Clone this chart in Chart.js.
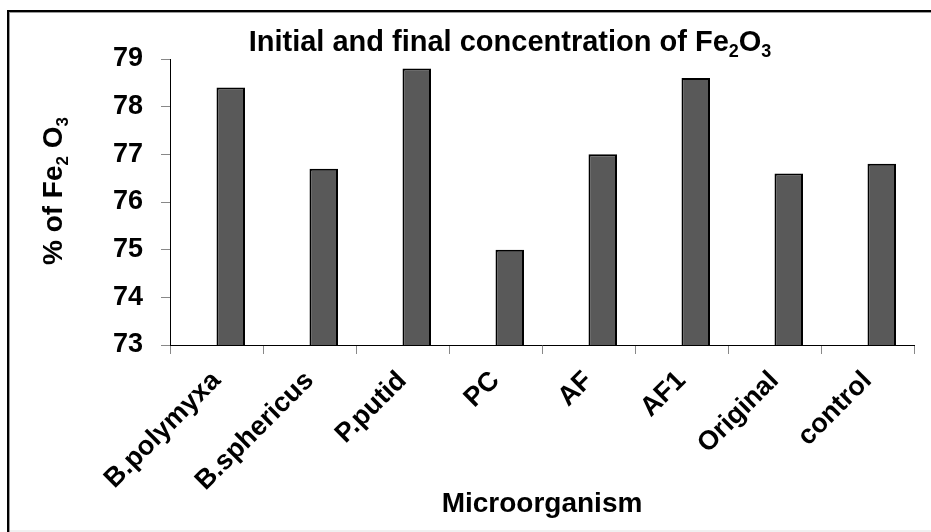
<!DOCTYPE html>
<html>
<head>
<meta charset="utf-8">
<script src="https://cdn.jsdelivr.net/npm/chart.js@4/dist/chart.umd.min.js"></script>
<style>
  html, body { margin: 0; padding: 0; background: #ffffff; }
  canvas { display: block; }
</style>
</head>
<body>
<canvas id="c" width="931" height="532"></canvas>
<script>
// ---- data ----
const categories = ["B.polymyxa", "B.sphericus", "P.putid", "PC", "AF", "AF1", "Original", "control"];
const fe2o3Percent = [78.4, 76.7, 78.8, 75.0, 77.0, 78.6, 76.6, 76.8];
const emptySeries = []; // the original Excel chart has an empty first series
const yMin = 73;
const yMax = 79;
const yStep = 1;

// ---- text ----
const titleParts = [["Initial and final concentration of Fe", false], ["2", true], ["O", false], ["3", true]];
const yTitleParts = [["% of Fe", false], ["2", true], [" O", false], ["3", true]];
const xTitleText = "Microorganism";

const FONT = '"Liberation Sans", Arial, Helvetica, sans-serif';

function drawParts(ctx, parts, size, cx, baseline) {
  const subSize = Math.round(size * 0.62);
  let total = 0;
  const widths = parts.map(([t, sub]) => {
    ctx.font = 'bold ' + (sub ? subSize : size) + 'px ' + FONT;
    const w = ctx.measureText(t).width;
    total += w;
    return w;
  });
  let x = cx - total / 2;
  ctx.textAlign = 'left';
  ctx.textBaseline = 'alphabetic';
  parts.forEach(([t, sub], i) => {
    ctx.font = 'bold ' + (sub ? subSize : size) + 'px ' + FONT;
    ctx.fillText(t, x, baseline + (sub ? size * 0.22 : 0));
    x += widths[i];
  });
}

const decorPlugin = {
  id: 'decor',
  beforeDraw(chart) {
    const ctx = chart.ctx;
    ctx.save();
    ctx.fillStyle = '#ffffff';
    ctx.fillRect(0, 0, chart.width, chart.height);
    // frame (top and left edges)
    ctx.fillStyle = '#000000';
    ctx.fillRect(7, 10, 924, 2);
    ctx.fillRect(7, 10, 2, 522);
    ctx.fillStyle = '#9a9a9a';
    ctx.fillRect(9, 12, 922, 1);
    ctx.fillRect(9, 12, 1, 520);
    ctx.fillStyle = '#f0f0f0';
    ctx.fillRect(10, 530, 921, 2);
    ctx.restore();
  },
  afterDraw(chart) {
    const ctx = chart.ctx;
    ctx.save();
    ctx.fillStyle = '#000000';
    drawParts(ctx, titleParts, 29, 510, 51);
    ctx.translate(62, 191);
    ctx.rotate(-Math.PI / 2);
    drawParts(ctx, yTitleParts, 28, 0, 0);
    ctx.restore();
  }
};

new Chart(document.getElementById('c'), {
  type: 'bar',
  data: {
    labels: categories,
    datasets: [
      { label: '', data: emptySeries, backgroundColor: '#595959' },
      {
        label: '% of Fe2O3',
        data: fe2o3Percent,
        backgroundColor: '#595959',
        borderColor: '#000000',
        borderWidth: 2,
        borderSkipped: false
      }
    ]
  },
  options: {
    responsive: false,
    animation: false,
    devicePixelRatio: 1,
    layout: { padding: { top: 59, right: 17, bottom: 0, left: 0 } },
    datasets: { bar: { categoryPercentage: 0.613, barPercentage: 1.0 } },
    plugins: {
      legend: { display: false },
      title: { display: false },
      tooltip: { enabled: false }
    },
    scales: {
      x: {
        grid: { display: true, offset: true, drawOnChartArea: false, drawTicks: true, tickLength: 9, color: '#888888' },
        border: { display: true, color: '#000000', width: 1 },
        ticks: {
          autoSkip: false, minRotation: 45, maxRotation: 45, padding: 11,
          color: '#000000', font: { family: FONT, size: 27, weight: 'bold' }
        },
        title: {
          display: true, text: xTitleText, color: '#000000',
          font: { family: FONT, size: 28, weight: 'bold' },
          padding: { top: 0, bottom: 11 }
        },
        afterFit(scale) { scale.height = 187; }
      },
      y: {
        min: yMin, max: yMax,
        grid: { display: true, drawOnChartArea: false, drawTicks: true, tickLength: 9, color: '#888888' },
        border: { display: true, color: '#000000', width: 1 },
        ticks: {
          stepSize: yStep, padding: 18, color: '#000000',
          font: { family: FONT, size: 27, weight: 'bold' }
        },
        afterFit(scale) { scale.width = 170; }
      }
    }
  },
  plugins: [decorPlugin]
});
</script>
</body>
</html>
